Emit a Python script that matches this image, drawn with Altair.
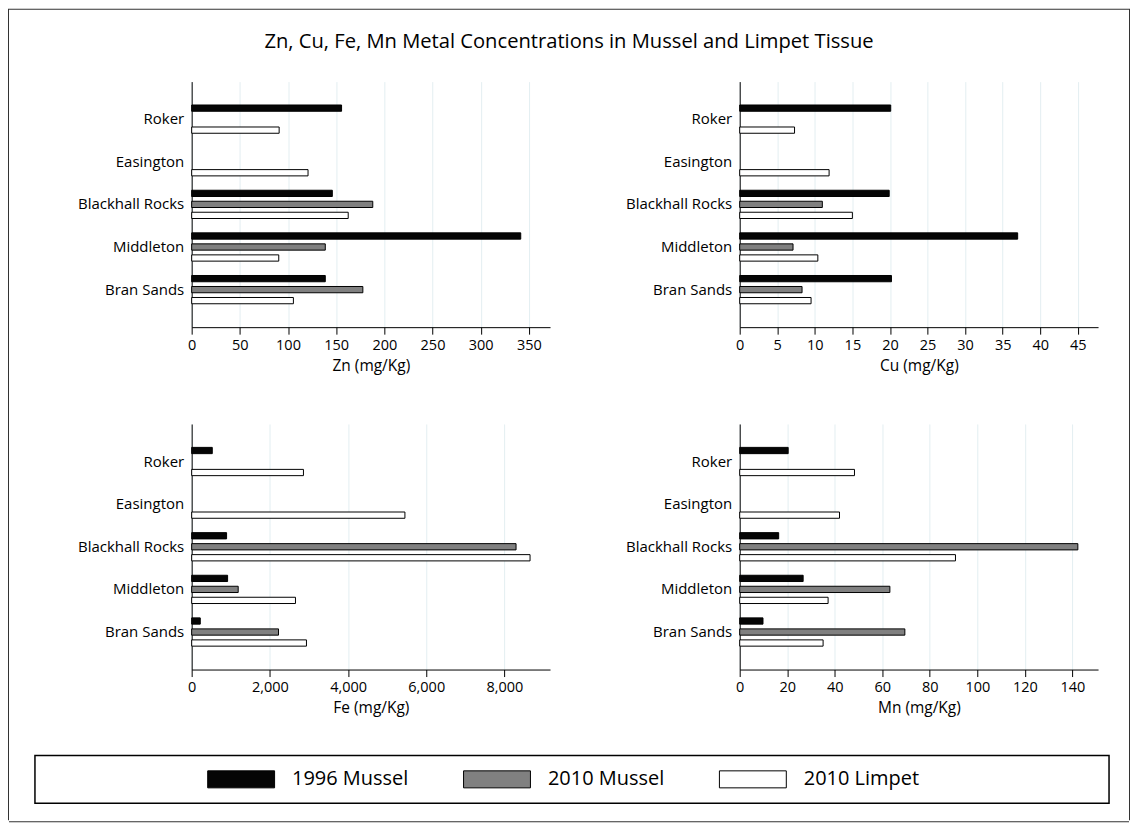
import altair as alt
import pandas as pd

TITLE = "Zn, Cu, Fe, Mn Metal Concentrations in Mussel and Limpet Tissue"
SITES = ["Roker", "Easington", "Blackhall Rocks", "Middleton", "Bran Sands"]
SERIES = ["1996 Mussel", "2010 Mussel", "2010 Limpet"]
FILLS = ["#050505", "#808080", "#ffffff"]

# values per site (order of SITES); None = not sampled
ZN_1996_MUSSEL = [155.6, None, 146.0, 341.6, 138.7]
ZN_2010_MUSSEL = [None, None, 188.0, 138.7, 177.7]
ZN_2010_LIMPET = [90.8, 120.8, 162.5, 90.4, 105.6]

CU_1996_MUSSEL = [20.1, None, 19.9, 37.0, 20.2]
CU_2010_MUSSEL = [None, None, 11.0, 7.1, 8.3]
CU_2010_LIMPET = [7.3, 11.9, 15.0, 10.4, 9.5]

FE_1996_MUSSEL = [527, None, 893, 919, 220]
FE_2010_MUSSEL = [None, None, 8297, 1190, 2221]
FE_2010_LIMPET = [2859, 5454, 8655, 2655, 2936]

MN_1996_MUSSEL = [20.4, None, 16.4, 26.7, 9.8]
MN_2010_MUSSEL = [None, None, 142.3, 63.2, 69.5]
MN_2010_LIMPET = [48.3, 42.0, 90.8, 37.2, 35.1]

ZN_TICKS = [0, 50, 100, 150, 200, 250, 300, 350]
CU_TICKS = [0, 5, 10, 15, 20, 25, 30, 35, 40, 45]
FE_TICKS = [0, 2000, 4000, 6000, 8000]
MN_TICKS = [0, 20, 40, 60, 80, 100, 120, 140]

FONT = "Open Sans"
GRID = "#e3eef1"
BORDER = "#333333"


def make_df(vals):
    rows = []
    for s, arr in zip(SERIES, vals):
        for site, v in zip(SITES, arr):
            if v is not None:
                rows.append({"site": site, "series": s, "value": v})
    return pd.DataFrame(rows)


def panel(label, vals, ticks, dmax, fmt):
    return alt.Chart(make_df(vals)).mark_bar(stroke="#000000", strokeWidth=1).encode(
        x=alt.X("value:Q", title=label,
                scale=alt.Scale(domain=[0, dmax], nice=False, zero=True),
                axis=alt.Axis(values=ticks, format=fmt, grid=True, gridColor=GRID, gridWidth=1,
                              domainColor="#000000", domainWidth=1, tickColor="#000000",
                              tickSize=7, tickWidth=1, labelFontSize=14.5, labelPadding=4,
                              labelFlush=False, labelOverlap=False,
                              titleFontSize=15.5, titlePadding=7)),
        y=alt.Y("site:N", sort=SITES, title=None,
                scale=alt.Scale(domain=SITES, paddingInner=0.337, paddingOuter=0.549),
                axis=alt.Axis(ticks=False, grid=False, domainColor="#000000", domainWidth=1,
                              labelFontSize=15, labelPadding=8)),
        yOffset=alt.YOffset("series:N", sort=SERIES,
                            scale=alt.Scale(domain=SERIES, paddingInner=0.43, paddingOuter=0)),
        fill=alt.Fill("series:N", scale=alt.Scale(domain=SERIES, range=FILLS), legend=None),
    ).properties(width=359, height=246)


zn = panel("Zn (mg/Kg)", [ZN_1996_MUSSEL, ZN_2010_MUSSEL, ZN_2010_LIMPET], ZN_TICKS, 372, "d")
cu = panel("Cu (mg/Kg)", [CU_1996_MUSSEL, CU_2010_MUSSEL, CU_2010_LIMPET], CU_TICKS, 47.7, "d")
fe = panel("Fe (mg/Kg)", [FE_1996_MUSSEL, FE_2010_MUSSEL, FE_2010_LIMPET], FE_TICKS, 9166, ",d")
mn = panel("Mn (mg/Kg)", [MN_1996_MUSSEL, MN_2010_MUSSEL, MN_2010_LIMPET], MN_TICKS, 150.8, "d")

# legend drawn as its own boxed view
leg_df = pd.DataFrame({"series": SERIES})
leg_x = alt.X("series:N", sort=SERIES,
              scale=alt.Scale(type="band", domain=SERIES, paddingInner=0.8,
                              paddingOuter=0.999, align=0.3533),
              axis=None)
swatch = alt.Chart(leg_df).mark_point(
    shape="M-1,-0.254L1,-0.254L1,0.254L-1,0.254Z", size=4489, filled=True,
    stroke="#000000", strokeWidth=1, opacity=1
).encode(
    x=leg_x, y=alt.value(24),
    fill=alt.Fill("series:N", scale=alt.Scale(domain=SERIES, range=FILLS), legend=None),
)
leg_text = alt.Chart(leg_df).mark_text(
    align="left", baseline="middle", dx=51, fontSize=20, font=FONT, color="#000000"
).encode(x=leg_x, y=alt.value(24), text="series:N")
legend_view = alt.layer(swatch, leg_text).properties(
    width=1076, height=48, view=alt.ViewBackground(stroke="#000000", strokeWidth=1.5)
)

dummy = pd.DataFrame({"v": [0]})


def blank(w, h, fill=None):
    if fill:
        vb = alt.ViewBackground(fill=fill, strokeWidth=0)
    else:
        vb = alt.ViewBackground(strokeWidth=0)
    return alt.Chart(dummy).mark_rect(opacity=0).encode(
        x=alt.value(0), x2=alt.value(0), y=alt.value(0), y2=alt.value(0)
    ).properties(width=w, height=h, view=vb)


top_edge = blank(1122, 1, BORDER).properties(
    title=alt.TitleParams(TITLE, orient="bottom", anchor="middle", offset=22, fontSize=20.2,
                          font=FONT, fontWeight="normal", color="#000000",
                          subtitle=" ", subtitleFontSize=10, subtitlePadding=2)
)
bottom_edge = blank(1122, 1, BORDER)
left_edge = blank(1, 813, BORDER)
right_edge = blank(1, 813, BORDER)

grid = alt.vconcat(
    alt.hconcat(zn, cu, spacing=75),
    alt.hconcat(fe, mn, spacing=75),
    spacing=50,
)
inner = alt.vconcat(alt.hconcat(blank(1, 1), grid, spacing=41), legend_view, spacing=38)
body = alt.hconcat(blank(1, 1), inner, spacing=24)
middle = alt.vconcat(top_edge, body, bottom_edge, spacing=17)

chart = alt.hconcat(left_edge, middle, right_edge, spacing=0).properties(
    padding=0
).configure_view(strokeWidth=0).configure_axis(
    labelFont=FONT, titleFont=FONT, labelColor="#000000", titleColor="#000000",
    titleFontWeight="normal"
).configure_title(font=FONT)

chart.save("out.html", embed_options={"renderer": "svg", "actions": False})
